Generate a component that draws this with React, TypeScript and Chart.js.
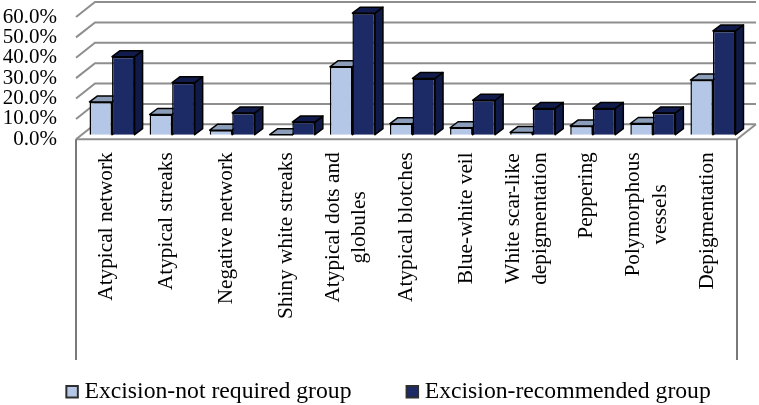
import React, { useEffect, useRef } from "react";
import { Chart, registerables } from "chart.js";

Chart.register(...registerables);

const categories: (string | string[])[] = [
  "Atypical network",
  "Atypical streaks",
  "Negative network",
  "Shiny white streaks",
  ["Atypical dots and", "globules"],
  "Atypical blotches",
  "Blue-white veil",
  ["White scar-like", "depigmentation"],
  "Peppering",
  ["Polymorphous", "vessels"],
  "Depigmentation",
];
const notRequired = [16.1, 9.9, 2.2, 0, 33.3, 5.4, 3.4, 1.1, 4.3, 5.5, 26.8];
const recommended = [38.3, 25.5, 10.7, 6.2, 59.6, 27.6, 16.9, 12.9, 12.9, 10.7, 50.9];
const seriesNames = ["Excision-not required group", "Excision-recommended group"];
const yTicks = [0, 10, 20, 30, 40, 50, 60];

const FONT = "'Liberation Serif', 'Times New Roman', serif";
const FONT_SIZE = 21;
const X_FONT_SIZE = 21.3;
const LEGEND_FONT_SIZE = 23.7;
const TICK_LINE_HEIGHT = 1.25;
const LIGHT = { face: "#B4C7E7", top: "#8B9DB9", side: "#7F8FA8" };
const DARK = { face: "#1C2A66", top: "#121C4C", side: "#0F1A48" };
const FLOOR_DX = 19;
const FLOOR_DY = 15;
const BAR_DX = 8;
const BAR_DY = 6;
const BAR_SHIFT_X = 6;
const BAR_SHIFT_Y = 4.6;
const FRAME_BOTTOM = 360;
const LEGEND_LEFT = 64.6;
const LEGEND_TOP = 373;
const GRID = "#8E8E8E";
const FRAME = "#7A7A7A";

const line = (ctx: CanvasRenderingContext2D, pts: number[][], color: string, width: number) => {
  ctx.beginPath();
  pts.forEach(([x, y], i) => (i ? ctx.lineTo(x, y) : ctx.moveTo(x, y)));
  ctx.strokeStyle = color;
  ctx.lineWidth = width;
  ctx.stroke();
};

const poly = (ctx: CanvasRenderingContext2D, pts: number[][], fill: string) => {
  ctx.beginPath();
  pts.forEach(([x, y], i) => (i ? ctx.lineTo(x, y) : ctx.moveTo(x, y)));
  ctx.closePath();
  ctx.fillStyle = fill;
  ctx.fill();
  ctx.strokeStyle = "#000000";
  ctx.lineWidth = 1.5;
  ctx.lineJoin = "round";
  ctx.stroke();
};

const perspectivePlugin = {
  id: "perspective",
  afterLayout(chart: any) {
    const legend = chart.legend;
    if (legend) {
      legend.left = LEGEND_LEFT;
      legend.right = 759;
      legend.top = LEGEND_TOP;
      legend.bottom = 405;
    }
  },
  beforeDraw(chart: any) {
    // centre the rotated tick labels on their category, lines centred in their block
    const items: any = chart.scales.x.getLabelItems();
    if (!items.__centred) {
      const lineHeight = X_FONT_SIZE * TICK_LINE_HEIGHT;
      const ctx = chart.ctx;
      ctx.save();
      ctx.font = `${X_FONT_SIZE}px ${FONT}`;
      items.forEach((item: any) => {
        if (Array.isArray(item.label)) {
          const n = item.label.length;
          const longest = Math.max(...item.label.map((t: string) => ctx.measureText(t).width));
          item.options.translation[0] -= ((n - 1) * lineHeight) / 2;
          item.options.translation[1] += longest / 2;
          item.options.textAlign = "center";
        }
      });
      ctx.restore();
      items.__centred = true;
    }
  },
  beforeDatasetsDraw(chart: any) {
    const { ctx, scales } = chart;
    const { x: xs, y: ys } = scales;
    const left = xs.left;
    const right = xs.right;
    const floorY = ys.getPixelForValue(0);

    ctx.save();
    // back wall and left wall
    yTicks.forEach((v) => {
      const y = ys.getPixelForValue(v);
      line(ctx, [[left, y], [left + FLOOR_DX, y - FLOOR_DY], [right + FLOOR_DX, y - FLOOR_DY]], GRID, 2);
    });
    // floor edges
    line(ctx, [[left, floorY], [right, floorY], [right + FLOOR_DX, floorY - FLOOR_DY]], GRID, 2);
    // frame around the labels
    line(ctx, [[left, floorY], [left, FRAME_BOTTOM]], FRAME, 2);
    line(ctx, [[right, floorY], [right, FRAME_BOTTOM]], FRAME, 2);
    ctx.restore();

    ctx.save();
    ctx.translate(BAR_SHIFT_X, -BAR_SHIFT_Y);
    const m0 = chart.getDatasetMeta(0).data;
    const m1 = chart.getDatasetMeta(1).data;
    m0.forEach((_: any, i: number) => {
      [
        { el: m0[i], c: LIGHT },
        { el: m1[i], c: DARK },
      ].forEach(({ el, c }) => {
        const { x, y, base, width } = el.getProps(["x", "y", "base", "width"], true);
        const l = x - width / 2;
        const r = x + width / 2;
        poly(ctx, [[r, y], [r + BAR_DX, y - BAR_DY], [r + BAR_DX, base - BAR_DY], [r, base]], c.side);
        poly(ctx, [[l, y], [l + BAR_DX, y - BAR_DY], [r + BAR_DX, y - BAR_DY], [r, y]], c.top);
      });
    });
  },
  afterDatasetsDraw(chart: any) {
    chart.ctx.restore();
  },
};

export default function App() {
  const ref = useRef<HTMLCanvasElement>(null);

  useEffect(() => {
    if (!ref.current) return;
    const chart = new Chart(ref.current, {
      type: "bar",
      data: {
        labels: categories as any,
        datasets: [
          {
            label: seriesNames[0],
            data: notRequired,
            backgroundColor: LIGHT.face,
            borderColor: "#000000",
            borderWidth: 1.5,
            clip: false as any,
          },
          {
            label: seriesNames[1],
            data: recommended,
            backgroundColor: DARK.face,
            borderColor: "#000000",
            borderWidth: 1.5,
            clip: false as any,
          },
        ],
      },
      plugins: [perspectivePlugin as any],
      options: {
        responsive: false,
        animation: false,
        devicePixelRatio: 1,
        layout: { padding: { left: 0, right: 22, top: 17, bottom: 0 } },
        datasets: { bar: { barPercentage: 1, categoryPercentage: 0.75 } },
        plugins: {
          title: { display: false },
          tooltip: { enabled: false },
          legend: {
            display: true,
            position: "bottom",
            align: "start",
            labels: {
              font: { family: FONT, size: LEGEND_FONT_SIZE },
              color: "#000000",
              usePointStyle: true,
              boxWidth: 1,
              boxHeight: 11.5,
              padding: 7,
              generateLabels: (c: any) =>
                Chart.defaults.plugins.legend.labels.generateLabels(c).map((d: any, i: number) => ({
                  ...d,
                  text: i === 0 ? d.text + "\u00A0".repeat(9) : d.text,
                  lineWidth: 2,
                  strokeStyle: "#2E2E2E",
                  pointStyle: "rect",
                  rotation: 0,
                })),
            },
          },
        },
        scales: {
          x: {
            grid: { display: false, drawTicks: false },
            border: { display: false },
            afterFit: (s: any) => {
              s.height = 225;
              s.paddingLeft = 0;
              s.paddingRight = 0;
            },
            ticks: {
              autoSkip: false,
              minRotation: 90,
              maxRotation: 90,
              padding: 13,
              color: "#000000",
              font: { family: FONT, size: X_FONT_SIZE, lineHeight: TICK_LINE_HEIGHT },
            },
          },
          y: {
            min: 0,
            max: 60,
            grid: { display: false, drawTicks: false },
            border: { display: false },
            afterFit: (s: any) => {
              s.width = 76;
              s.paddingTop = 0;
              s.paddingBottom = 0;
            },
            afterBuildTicks: (s: any) => {
              s.ticks = yTicks.map((value) => ({ value }));
            },
            ticks: {
              autoSkip: false,
              padding: 19,
              color: "#000000",
              font: { family: FONT, size: FONT_SIZE },
              callback: (v: any) => `${Number(v).toFixed(1)}%`,
            },
          },
        },
      },
    });
    return () => chart.destroy();
  }, []);

  return (
    <div style={{ position: "fixed", left: 0, top: 0, width: 759, height: 405, background: "#ffffff" }}>
      <canvas ref={ref} width={759} height={405} style={{ display: "block" }} />
    </div>
  );
}
